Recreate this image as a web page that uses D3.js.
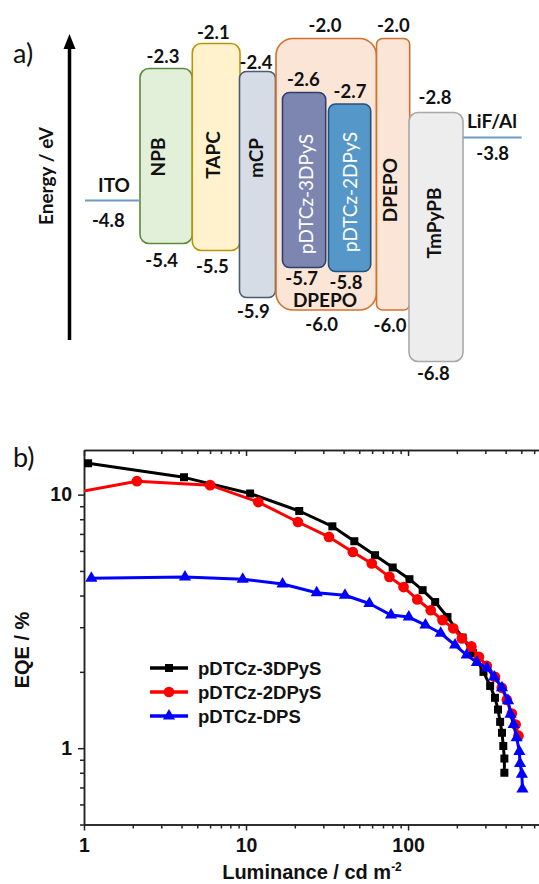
<!DOCTYPE html>
<html>
<head>
<meta charset="utf-8">
<script src="https://cdn.jsdelivr.net/npm/d3@7/dist/d3.min.js"></script>
<style>
  body { margin: 0; background: #fff; }
  svg { display: block; }
</style>
</head>
<body>
<svg id="chart" width="539" height="884"></svg>
<script>
// ---------- (a) energy level diagram data ----------
const layers = ["NPB", "TAPC", "mCP", "DPEPO", "pDTCz-3DPyS", "pDTCz-2DPyS", "DPEPO", "TmPyPB"];
const lumo = [-2.3, -2.1, -2.4, -2.0, -2.6, -2.7, -2.0, -2.8];
const homo = [-5.4, -5.5, -5.9, -6.0, -5.7, -5.8, -6.0, -6.8];
const electrodes = ["ITO", "LiF/Al"];
const workFunctions = [-4.8, -3.8];

// ---------- (b) EQE vs luminance data ----------
const seriesNames = ["pDTCz-3DPyS", "pDTCz-2DPyS", "pDTCz-DPS"];
const lum3DPyS = [1.06, 4.14, 10.6, 21.3, 34.1, 46.6, 62.5, 80.4, 102, 123, 147, 175, 217, 252, 292, 321, 344, 359, 370, 380, 387, 393, 393];
const eqe3DPyS = [13.3, 11.7, 10.1, 8.62, 7.50, 6.55, 5.77, 5.16, 4.64, 4.20, 3.77, 3.29, 2.73, 2.37, 2.00, 1.76, 1.58, 1.42, 1.27, 1.15, 1.02, 0.91, 0.80];
const lum2DPyS = [0.9, 2.12, 6.0, 11.9, 20.9, 32.5, 45.6, 59.7, 76.7, 93.8, 114, 138, 163, 190, 215, 246, 274, 306, 344, 379, 407, 437, 461, 480];
const eqe2DPyS = [10.2, 11.3, 10.9, 9.35, 7.80, 6.81, 5.94, 5.35, 4.74, 4.32, 3.86, 3.50, 3.20, 2.97, 2.71, 2.52, 2.29, 2.11, 1.91, 1.73, 1.55, 1.37, 1.24, 1.12];
const lumDPS = [1.11, 4.20, 9.54, 16.8, 27.3, 40.8, 57.7, 78.5, 101, 128, 159, 195, 230, 266, 307, 340, 380, 414, 429, 448, 468, 486, 491, 504, 508];
const eqeDPS = [4.68, 4.73, 4.64, 4.44, 4.10, 4.01, 3.72, 3.35, 3.29, 3.06, 2.84, 2.55, 2.33, 2.18, 2.07, 1.91, 1.73, 1.54, 1.36, 1.24, 1.10, 0.97, 0.87, 0.79, 0.69];
const xMajorTicks = [1, 10, 100];
const yMajorTicks = [1, 10];

const svg = d3.select("#chart");
const fmt = v => v.toFixed(1);

// ======================= panel (a) =======================
const fontA = "Lato, 'Open Sans', sans-serif";
const pa = svg.append("g");

// Schematic energy axis: each distinct level gets its own row position
const levels = Array.from(new Set([...lumo, ...homo, ...workFunctions])).sort((a, b) => b - a);
const levelRows = [38.5, 43.5, 68.5, 71.5, 92.5, 104, 112.5, 137.5, 200.5, 243.5, 250.5, 267.5, 271.5, 297.5, 310, 361.5];
const E = d3.scaleLinear().domain(levels).range(levelRows);

// layout of each layer box
const boxLayout = [
  { x0: 140,   x1: 192.3, r: 9,  fill: "#e2efd9", stroke: "#5a8a3a" },
  { x0: 192.3, x1: 240,   r: 9,  fill: "#fff2cc", stroke: "#b8960c" },
  { x0: 239.5, x1: 275.5, r: 7,  fill: "#d6dce5", stroke: "#4a5a70" },
  { x0: 276,   x1: 376.5, r: 17, fill: "#fbe5d6", stroke: "#d2712e" },
  { x0: 282.5, x1: 325.7, r: 7,  fill: "#7d86b0", stroke: "#2f3f6b" },
  { x0: 328.5, x1: 370.7, r: 7,  fill: "#5597c8", stroke: "#23527f" },
  { x0: 376.5, x1: 409.7, r: 6,  fill: "#fbe5d6", stroke: "#d2712e" },
  { x0: 409,   x1: 463,   r: 9,  fill: "#ededed", stroke: "#a8a8a8" }
];
// name placement: rotated labels are positioned by baseline x and centre y
const nameLayout = [
  { x: 165, y: 157, rot: true,  color: "#111", weight: 700 },
  { x: 220, y: 155, rot: true,  color: "#111", weight: 700 },
  { x: 263, y: 158, rot: true,  color: "#111", weight: 700 },
  { x: 325, y: 307, rot: false, color: "#111", weight: 700 },
  { x: 313, y: 194, rot: true,  color: "#ffffff", weight: 400 },
  { x: 357, y: 192, rot: true,  color: "#ffffff", weight: 400 },
  { x: 397, y: 190, rot: true,  color: "#111", weight: 700 },
  { x: 441, y: 223, rot: true,  color: "#111", weight: 700 }
];
// value label placement: [centre x, baseline offset from level]
const lumoLabel = [[163, -5.5], [213.3, -5], [256, -3], [325, -7], [303.3, -6.7], [350, -5.6], [393.3, -7], [435, -9]];
const homoLabel = [[161.7, 23], [212.3, 22.7], [253.3, 20.4], [321.7, 20.7], [301.7, 17.2], [346, 17], [390, 21.7], [433.3, 18.3]];

layers.forEach((name, i) => {
  const b = boxLayout[i];
  pa.append("rect")
    .attr("x", b.x0).attr("y", E(lumo[i]))
    .attr("width", b.x1 - b.x0).attr("height", E(homo[i]) - E(lumo[i]))
    .attr("rx", b.r).attr("ry", b.r)
    .attr("fill", b.fill).attr("stroke", b.stroke).attr("stroke-width", 1.6);
});

layers.forEach((name, i) => {
  const n = nameLayout[i];
  const t = pa.append("text").text(name)
    .attr("font-family", fontA).attr("font-size", 19).attr("font-weight", n.weight)
    .attr("fill", n.color).attr("text-anchor", "middle");
  if (n.rot) t.attr("transform", `translate(${n.x},${n.y}) rotate(-90)`);
  else t.attr("x", n.x).attr("y", n.y);

  pa.append("text").text(fmt(lumo[i]))
    .attr("x", lumoLabel[i][0]).attr("y", E(lumo[i]) + lumoLabel[i][1])
    .attr("font-family", fontA).attr("font-size", 18.5).attr("font-weight", 700)
    .attr("fill", "#111").attr("text-anchor", "middle");
  pa.append("text").text(fmt(homo[i]))
    .attr("x", homoLabel[i][0]).attr("y", E(homo[i]) + homoLabel[i][1])
    .attr("font-family", fontA).attr("font-size", 18.5).attr("font-weight", 700)
    .attr("fill", "#111").attr("text-anchor", "middle");
});

// electrode work-function lines
const electrodeLayout = [
  { x0: 85, x1: 140, nameX: 114, nameDy: -9, valX: 108.3, valDy: 26 },
  { x0: 463.3, x1: 521.7, nameX: 492, nameDy: -9.8, valX: 492.7, valDy: 22.5 }
];
electrodes.forEach((name, i) => {
  const l = electrodeLayout[i];
  const yy = E(workFunctions[i]);
  pa.append("line").attr("x1", l.x0).attr("x2", l.x1).attr("y1", yy).attr("y2", yy)
    .attr("stroke", "#6d9ac8").attr("stroke-width", 2);
  pa.append("text").text(name).attr("x", l.nameX).attr("y", yy + l.nameDy)
    .attr("font-family", fontA).attr("font-size", 19).attr("font-weight", 700)
    .attr("fill", "#111").attr("text-anchor", "middle");
  pa.append("text").text(fmt(workFunctions[i])).attr("x", l.valX).attr("y", yy + l.valDy)
    .attr("font-family", fontA).attr("font-size", 18.5).attr("font-weight", 700)
    .attr("fill", "#111").attr("text-anchor", "middle");
});

// energy arrow
pa.append("line").attr("x1", 69.5).attr("x2", 69.5).attr("y1", 340).attr("y2", 46)
  .attr("stroke", "#000").attr("stroke-width", 3.5);
pa.append("path").attr("d", "M69.5,34 L63.5,49 L75.5,49 Z").attr("fill", "#000");
pa.append("text").text("Energy / eV")
  .attr("transform", "translate(53,176) rotate(-90)")
  .attr("font-family", fontA).attr("font-size", 19).attr("font-weight", 700)
  .attr("fill", "#111").attr("text-anchor", "middle");
pa.append("text").text("a)").attr("x", 13).attr("y", 63)
  .attr("font-family", fontA).attr("font-size", 27).attr("fill", "#111");

// ======================= panel (b) =======================
const fontB = "'Liberation Sans', Arial, sans-serif";
const pb = svg.append("g");
const x = d3.scaleLog().domain([1, 700]).range([84, 545]);
const y = d3.scaleLog().domain([0.5, 15]).range([824.5, 450]);

const logMinors = (lo, hi) => {
  const out = [];
  for (let d = Math.pow(10, Math.floor(Math.log10(lo))); d < hi; d *= 10)
    for (let k = 2; k < 10; k++) { const v = k * d; if (v >= lo && v <= hi) out.push(v); }
  return out;
};
const xMinor = logMinors(1, 700);
const yMinor = logMinors(0.5, 15);

pb.append("text").text("b)").attr("x", 13).attr("y", 466.5)
  .attr("font-family", fontA).attr("font-size", 27).attr("fill", "#111");

const styleAxis = g => {
  g.select(".domain").attr("stroke", "#222").attr("stroke-width", 1.5);
  g.selectAll(".tick line").attr("stroke", "#222").attr("stroke-width", 1.5);
  g.selectAll(".tick text").attr("font-family", fontB).attr("font-size", 19.5)
    .attr("font-weight", 700).attr("fill", "#111");
};

const yb = y.range()[0], yt = y.range()[1];
const xl = x.range()[0];

// bottom axis
pb.append("g").attr("transform", `translate(0,${yb})`)
  .call(d3.axisBottom(x).tickValues(xMinor).tickSize(4).tickFormat("").tickSizeOuter(0)).call(styleAxis);
pb.append("g").attr("transform", `translate(0,${yb})`)
  .call(d3.axisBottom(x).tickValues(xMajorTicks).tickSize(6).tickPadding(8).tickFormat(d3.format("d")).tickSizeOuter(0))
  .call(styleAxis);
// top axis, ticks pointing inward
pb.append("g").attr("transform", `translate(0,${yt})`)
  .call(d3.axisTop(x).tickValues(xMinor).tickSize(-4).tickFormat("").tickSizeOuter(0)).call(styleAxis);
pb.append("g").attr("transform", `translate(0,${yt})`)
  .call(d3.axisTop(x).tickValues(xMajorTicks).tickSize(-6).tickFormat("").tickSizeOuter(0)).call(styleAxis);
// left axis
pb.append("g").attr("transform", `translate(${xl},0)`)
  .call(d3.axisLeft(y).tickValues(yMinor).tickSize(4).tickFormat("").tickSizeOuter(0)).call(styleAxis);
pb.append("g").attr("transform", `translate(${xl},0)`)
  .call(d3.axisLeft(y).tickValues(yMajorTicks).tickSize(6).tickPadding(6).tickFormat(d3.format("d")).tickSizeOuter(0))
  .call(styleAxis);

// axis titles
pb.append("text").text("EQE / %")
  .attr("transform", "translate(29,650) rotate(-90)")
  .attr("font-family", fontB).attr("font-size", 20).attr("font-weight", 700)
  .attr("fill", "#111").attr("text-anchor", "middle");
const xt = pb.append("text").attr("x", 312).attr("y", 879)
  .attr("font-family", fontB).attr("font-size", 20).attr("font-weight", 700)
  .attr("fill", "#111").attr("text-anchor", "middle");
xt.append("tspan").text("Luminance / cd m");
xt.append("tspan").text("-2").attr("font-size", 12).attr("dy", -8);

// data curves, clipped to the frame
svg.append("defs").append("clipPath").attr("id", "plotClip")
  .append("rect").attr("x", xl).attr("y", yt).attr("width", x.range()[1] - xl).attr("height", yb - yt);

const series = [
  { lum: lum3DPyS, eqe: eqe3DPyS, color: "#000000", symbol: d3.symbolSquare, size: 64 },
  { lum: lum2DPyS, eqe: eqe2DPyS, color: "#ff0000", symbol: d3.symbolCircle, size: 90 },
  { lum: lumDPS,   eqe: eqeDPS,   color: "#0000ff", symbol: d3.symbolTriangle, size: 64 }
];
const plot = pb.append("g").attr("clip-path", "url(#plotClip)");
const line = d3.line().x(d => x(d[0])).y(d => y(d[1]));
series.forEach(s => {
  const pts = s.lum.map((v, i) => [v, s.eqe[i]]);
  plot.append("path").attr("d", line(pts)).attr("fill", "none")
    .attr("stroke", s.color).attr("stroke-width", 3).attr("stroke-linejoin", "round");
  plot.selectAll(null).data(pts).enter().append("path")
    .attr("d", d3.symbol().type(s.symbol).size(s.size))
    .attr("transform", d => `translate(${x(d[0])},${y(d[1])})`)
    .attr("fill", s.color);
});

// legend
const legend = pb.append("g");
const legendRows = [668, 692, 716];
series.forEach((s, i) => {
  const ly = legendRows[i];
  legend.append("line").attr("x1", 150).attr("x2", 188).attr("y1", ly).attr("y2", ly)
    .attr("stroke", s.color).attr("stroke-width", 3.5);
  legend.append("path").attr("d", d3.symbol().type(s.symbol).size(s.size))
    .attr("transform", `translate(169,${ly})`).attr("fill", s.color);
  legend.append("text").text(seriesNames[i]).attr("x", 198).attr("y", ly + 6.5)
    .attr("font-family", fontB).attr("font-size", 18.5).attr("font-weight", 700).attr("fill", "#111");
});
</script>
</body>
</html>
